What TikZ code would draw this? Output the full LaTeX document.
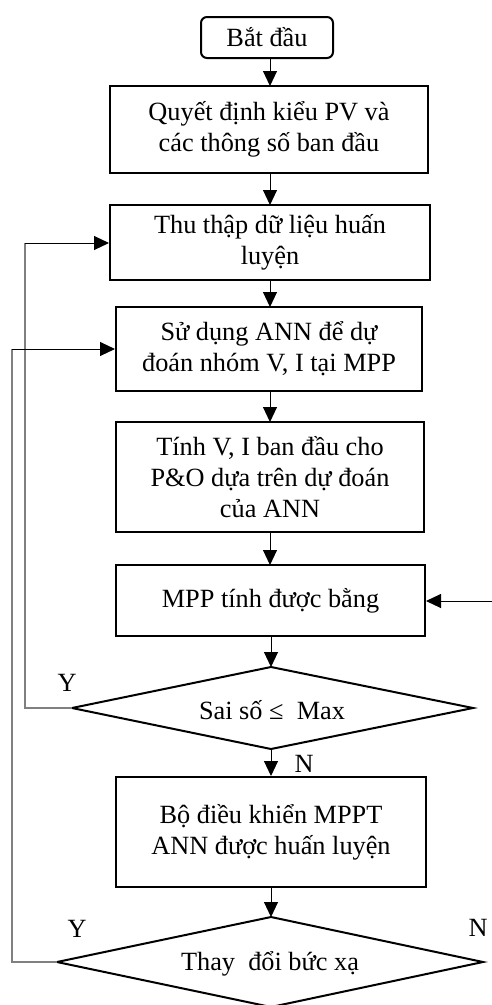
\documentclass[tikz,border=0pt]{standalone}
\usepackage{fontspec}
\setmainfont{Liberation Serif}
\usetikzlibrary{arrows.meta}
\begin{document}
\begin{tikzpicture}[x=1pt,y=-1pt,
  every node/.style={font=\fontsize{26.3}{31}\selectfont},
  box/.style={draw,line width=2pt,rectangle,align=center,inner sep=0pt},
  diaedge/.style={line width=2pt,line join=miter},
  arr/.style={line width=1pt,-{Triangle[length=15pt,width=14pt]}},
  loopv/.style={line width=1.3pt,draw=black!50},
  lbl/.style={inner sep=0pt}]
\useasboundingbox (0,0) rectangle (492,1005);
\node[box,rounded corners=6pt,minimum width=132pt,minimum height=41pt] (start) at (267,37.5) {Bắt đầu};
\node[box,minimum width=318pt,minimum height=87pt] (b2) at (269,129.5) {Quyết định kiểu PV và\\các thông số ban đầu};
\node[box,minimum width=320pt,minimum height=75pt] (b3) at (270,242.5) {Thu thập dữ liệu huấn\\luyện};
\node[box,minimum width=306pt,minimum height=84pt] (b4) at (269,349) {Sử dụng ANN để dự\\đoán nhóm V, I tại MPP};
\node[box,minimum width=308pt,minimum height=110pt] (b5) at (270,477) {Tính V, I ban đầu cho\\P\&O dựa trên dự đoán\\của ANN};
\node[box,minimum width=309pt,minimum height=71pt] (b6) at (270.5,600.5) {MPP tính được bằng};
\node[box,minimum width=310pt,minimum height=110pt] (b7) at (271,832) {Bộ điều khiển MPPT\\ANN được huấn luyện};
% decision 1
\coordinate (d1n) at (271,667);
\coordinate (d1s) at (271,749);
\coordinate (d1w) at (72,708);
\coordinate (d1e) at (473,708);
\draw[diaedge] (d1n) -- (d1e) -- (d1s) -- (d1w) -- cycle;
\node (d1) at (272,710) {Sai số ≤\ \ Max};
% decision 2
\coordinate (d2n) at (271,917);
\coordinate (d2s) at (271,1007);
\coordinate (d2w) at (57,962);
\coordinate (d2e) at (483,962);
\draw[diaedge] (d2n) -- (d2e) -- (d2s) -- (d2w) -- cycle;
\node (d2) at (270,964) {Thay\ \ đổi bức xạ};
% vertical flow
\draw[arr] (270,58) -- (270,86);
\draw[arr] (270,173) -- (270,205);
\draw[arr] (270,280) -- (270,307);
\draw[arr] (270,391) -- (270,422);
\draw[arr] (270,532) -- (270,565);
\draw[arr] (b6.south -| d1n) -- (d1n);
\draw[arr] (d1s) -- (d1s |- b7.north);
\draw[arr] (b7.south -| d2n) -- (d2n);
% loops
\coordinate (c1) at (25,243);
\coordinate (c2) at (12,349);
\coordinate (rr) at (492,601);
\draw[loopv] (d1w) -| (c1);
\draw[arr] (c1) -- (c1 -| b3.west);
\draw[loopv] (d2w) -| (c2);
\draw[arr] (c2) -- (c2 -| b4.west);
\draw[arr] (rr) -- (rr -| b6.east);
% labels
\node[lbl] (y1) at (67,683) {Y};
\node[lbl] (n1) at (304,764) {N};
\node[lbl] (y2) at (77,929) {Y};
\node[lbl] (n2) at (478,928) {N};
\end{tikzpicture}
\end{document}
